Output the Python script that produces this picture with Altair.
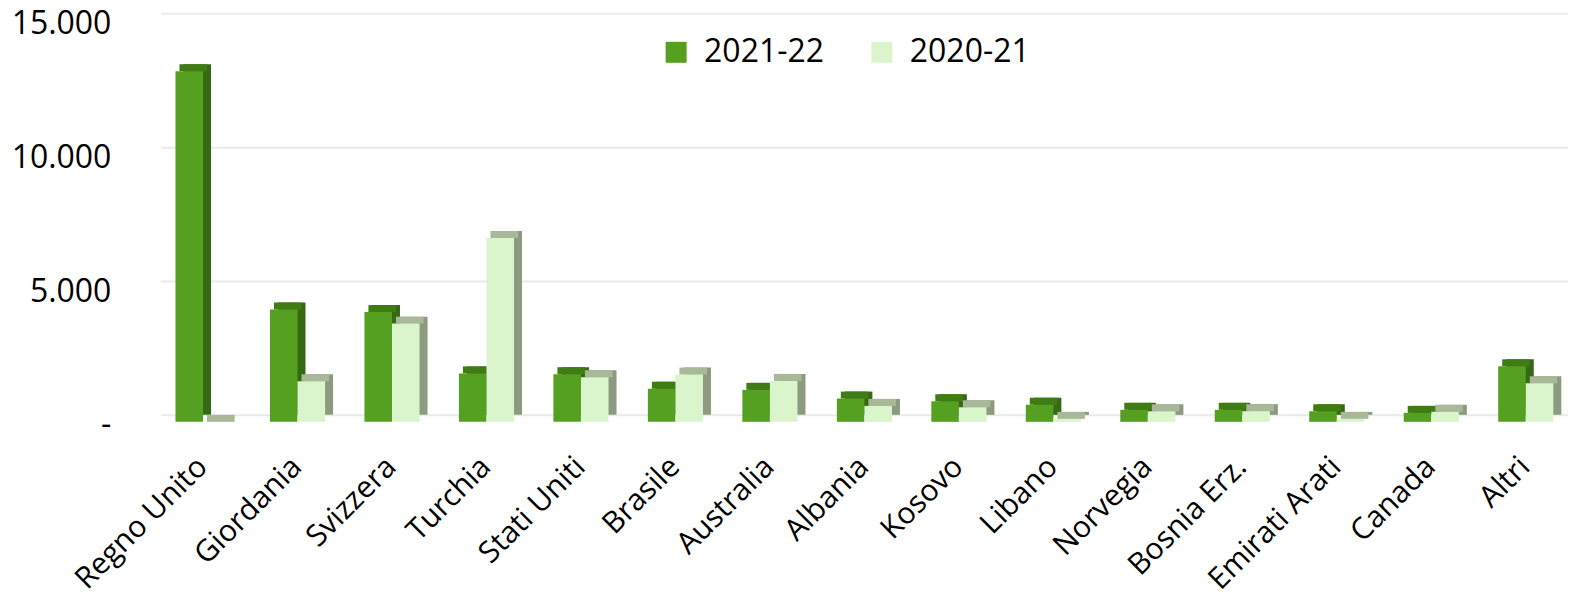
import altair as alt
import pandas as pd

countries = ["Regno Unito", "Giordania", "Svizzera", "Turchia", "Stati Uniti",
             "Brasile", "Australia", "Albania", "Kosovo", "Libano", "Norvegia",
             "Bosnia Erz.", "Emirati Arati", "Canada", "Altri"]
v_2122 = [13100, 4200, 4100, 1810, 1780, 1240, 1195, 870, 770, 640, 450, 450, 395, 335, 2075]
v_2021 = [0, 1515, 3670, 6870, 1665, 1765, 1530, 595, 545, 110, 395, 400, 110, 375, 1440]
series = ["2021-22", "2020-21"]
colors_front = ["#55a021", "#daf5cc"]
colors_top = ["#3f7c14", "#a8b898"]
colors_side = ["#376915", "#8c9b80"]
y_ticks = [0, 5000, 10000, 15000]

rows = []
for c, a, b in zip(countries, v_2122, v_2021):
    rows.append({"paese": c, "serie": series[0], "valore": a})
    rows.append({"paese": c, "serie": series[1], "valore": b})
df = pd.DataFrame(rows)

FONT = "Open Sans"
BAR_W = 27.6
DX, DY = 8, -7
OFFS = [-BAR_W / 2, BAR_W / 2]

x = alt.X("paese:N", sort=countries,
          scale=alt.Scale(type="point", padding=0.447),
          axis=alt.Axis(title=None, labelAngle=-45, labelAlign="right",
                        labelBaseline="middle", labelFontSize=30, labelFont=FONT,
                        labelColor="#000000", labelPadding=40, labelOffset=-1,
                        ticks=False, domain=False, grid=False,
                        labelOverlap=False, labelLimit=400))

y = alt.Y("valore:Q", scale=alt.Scale(domain=[0, 15000], nice=False),
          axis=alt.Axis(title=None, values=y_ticks,
                        labelExpr="datum.value == 0 ? '-\u00a0\u00a0' : replace(format(datum.value, ','), ',', '.')",
                        labelFontSize=32, labelFont=FONT, labelColor="#000000",
                        labelPadding=50, ticks=False, domain=False, grid=True,
                        gridColor="#eaeaea", gridWidth=2, tickOffset=-7,
                        labelOffset=10))

base = alt.Chart(df)
layers = []
for i, s in enumerate(series):
    sel = base.transform_filter(alt.datum.serie == s)
    depth = sel.mark_bar(size=BAR_W, color=colors_side[i], xOffset=OFFS[i] + DX,
                         yOffset=DY, y2Offset=DY).encode(x=x, y=y)
    top = sel.mark_tick(size=BAR_W, thickness=-DY, color=colors_top[i], opacity=1,
                        orient="horizontal", xOffset=OFFS[i] + DX / 2,
                        yOffset=DY / 2).encode(x=x, y=y)
    front = sel.mark_bar(size=BAR_W, xOffset=OFFS[i]).encode(
        x=x, y=y,
        color=alt.Color("serie:N",
                        scale=alt.Scale(domain=series, range=colors_front),
                        legend=alt.Legend(title=None, orient="none", legendX=500,
                                          legendY=16, direction="horizontal",
                                          symbolType="square", symbolSize=441,
                                          symbolStrokeWidth=0, symbolOpacity=1,
                                          labelFontSize=32, labelFont=FONT,
                                          labelColor="#000000", labelOffset=12,
                                          columnPadding=41, labelLimit=400,
                                          padding=0)))
    layers += [depth, top, front]

chart = alt.layer(*layers).properties(
    width=1409, height=402,
    padding={"left": 153, "top": 12, "right": 0, "bottom": 175},
    autosize=alt.AutoSizeParams(type="none"),
    background="white",
).configure_view(stroke=None)

chart.save("out.html", embed_options={"renderer": "svg", "actions": False})
